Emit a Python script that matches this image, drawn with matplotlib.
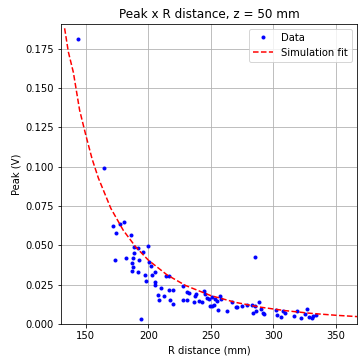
import matplotlib
matplotlib.use("Agg")
import matplotlib.pyplot as plt

# measured points (R distance in mm, peak in V)
r_data = [143.8, 164.4, 171.4, 177.7, 180.7, 174.3,
          185.8, 188.5, 200.0, 191.7, 195.7, 188.9, 173.0, 181.8, 187.6, 192.4,
          187.3, 187.7, 200.8, 201.9, 187.2, 192.0, 197.1, 203.2, 205.6, 198.4,
          205.1, 205.3, 210.4, 214.1, 216.5, 216.5, 220.0, 208.0, 212.8, 208.8,
          217.6, 219.5, 193.8,
          285.8, 227.7, 231.2, 232.5, 237.3, 238.4, 244.5, 245.3, 247.2, 248.5,
          250.7, 253.3, 257.3, 257.8, 255.2, 252.5, 249.3, 250.6, 255.9, 263.1,
          267.1, 269.8, 271.1, 275.1, 279.1, 283.1, 285.8, 289.0, 283.9, 286.3,
          292.5, 227.7, 231.2, 236.5, 240.5, 243.2,
          292.0, 290.4, 301.9, 302.7, 306.6, 308.0, 309.3, 316.5, 319.2, 322.4,
          325.1, 327.2, 328.5, 331.2, 332.0, 333.9]
peak_data = [0.1813, 0.0995, 0.0623, 0.0636, 0.0647, 0.0581,
             0.0566, 0.0490, 0.0496, 0.0481, 0.0460, 0.0450, 0.0407, 0.0422, 0.0422, 0.0405,
             0.0386, 0.0365, 0.0396, 0.0371, 0.0337, 0.0333, 0.0312, 0.0312, 0.0333, 0.0274,
             0.0265, 0.0248, 0.0231, 0.0307, 0.0303, 0.0216, 0.0216, 0.0184, 0.0178, 0.0153,
             0.0153, 0.0125, 0.0030,
             0.0426, 0.0242, 0.0206, 0.0195, 0.0180, 0.0191, 0.0210, 0.0189, 0.0167, 0.0160,
             0.0174, 0.0160, 0.0180, 0.0163, 0.0146, 0.0121, 0.0117, 0.0115, 0.0089, 0.0085,
             0.0142, 0.0110, 0.0106, 0.0117, 0.0121, 0.0121, 0.0117, 0.0138, 0.0074, 0.0085,
             0.0062, 0.0153, 0.0153, 0.0142, 0.0146, 0.0138,
             0.0074, 0.0099, 0.0089, 0.0061, 0.0047, 0.0081, 0.0074, 0.0053, 0.0081, 0.0040,
             0.0067, 0.0095, 0.0047, 0.0036, 0.0053, 0.0061]

# simulation fit curve
r_fit = [133, 136, 140, 145, 150, 155, 160, 170, 180, 190, 200, 215, 230,
         250, 270, 290, 310, 330, 350, 368]
peak_fit = [0.188, 0.173, 0.160, 0.136, 0.120, 0.105, 0.0929, 0.0736, 0.0596,
            0.0490, 0.0407, 0.0313, 0.0245, 0.01815, 0.0138, 0.01076, 0.00856,
            0.00688, 0.00565, 0.00476]

fig = plt.figure(figsize=(358 / 72, 357 / 72), dpi=72)
ax = fig.add_axes([0.170, 0.092, 0.827, 0.842])

ax.plot(r_data, peak_data, 'b.', label='Data')
ax.plot(r_fit, peak_fit, 'r--', label='Simulation fit')

ax.set_xlim(130, 367)
ax.set_ylim(0, 0.191)
ax.set_xticks([150, 200, 250, 300, 350])
ax.set_yticks([0, 0.025, 0.05, 0.075, 0.1, 0.125, 0.15, 0.175])
ax.yaxis.set_major_formatter(matplotlib.ticker.FormatStrFormatter('%.3f'))

ax.set_title('Peak x R distance, z = 50 mm')
ax.set_xlabel('R distance (mm)')
ax.set_ylabel('Peak (V)')
ax.grid(True)
ax.legend(loc='upper right')

fig.savefig('out.png', dpi=72)
